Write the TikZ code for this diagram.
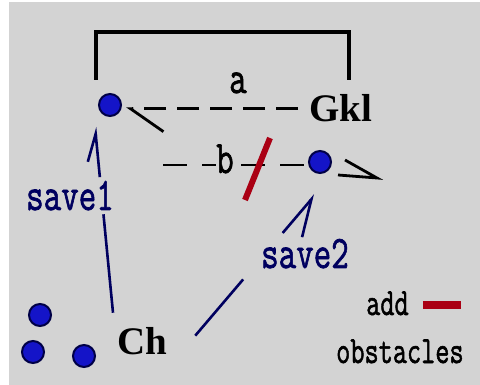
\documentclass[tikz,border=0pt]{standalone}
\usepackage{fontspec}
\usepackage{graphicx}
\usetikzlibrary{arrows.meta,calc}
\newfontfamily\typer[FakeBold=1.6]{Latin Modern Mono}
\newfontfamily\labelserif{Liberation Serif}
\definecolor{paper}{RGB}{211,211,211}
\definecolor{dotfill}{RGB}{20,20,200}
\definecolor{dotrim}{RGB}{0,0,70}
\definecolor{navyink}{RGB}{0,0,95}
\definecolor{blocker}{RGB}{170,0,20}
% stretch a label vertically
\newcommand{\tallmono}[2]{\scalebox{1}[#1]{#2}}

\begin{document}
\begin{tikzpicture}[x=1pt,y=-1pt,
  site/.style={circle, fill=dotfill, draw=dotrim, line width=2pt,
    minimum size=22pt, inner sep=0pt},
  hostname/.style={font=\labelserif\bfseries\fontsize{39}{39}\selectfont,
    inner sep=0pt, anchor=base west},
  marker/.style={font=\typer\fontsize{34}{34}\selectfont,
    inner sep=0pt, anchor=base west},
  note/.style={font=\typer\fontsize{27.5}{27.5}\selectfont,
    inner sep=0pt, anchor=base west},
  savelink/.style={draw=navyink, line width=2.6pt},
  hop/.style={line width=2.8pt, dash pattern=on 22pt off 11pt},
]
% canvas
\fill[white] (0,0) rectangle (480,385);
\fill[paper] (9,2) rectangle (480,385);
\useasboundingbox (0,0) rectangle (480,385);

% bracket over the top pair
\draw[line width=4pt] (96,80) -- (96,32) -- (349,32) -- (349,80);

% sites
\node[site] (d1) at (110,105) {};
\node[site] (d2) at (320,162) {};
\node[site] (d3) at (40,315) {};
\node[site] (d4) at (33,352) {};
\node[site] (d5) at (84,356) {};

% hosts
\node[hostname] (gkl) at (309,122) {Gkl};
\node[hostname] (ch) at (117,354) {Ch};

% hop a
\draw[hop, -{Straight Barb[harpoon, length=33pt, width=46pt, line width=2.8pt]}]
  ([xshift=-11pt]gkl.west) -- ([xshift=4pt]d1.east |- gkl.west);
\node[marker] (lbla) at (229,93) {\tallmono{1.37}{a}};

% hop b
\coordinate (bstart) at (163,165);
\draw[hop, dash pattern=on 24pt off 15pt] (bstart) -- (d2.west |- bstart);
\node[marker, fill=paper] (lblb) at (216,173) {\tallmono{1.37}{b}};
\coordinate (btip) at ($(d2)+(57,16)$);
\draw[line width=2.8pt] ($(btip)+(-32,-18)$) -- (btip) -- ($(btip)+(-39,-3)$);

% obstacle across hop b
\draw[blocker, line width=6pt] (270,138) -- (245,200);

% save1: Ch -> upper left site
\coordinate (s1from) at ($(ch.north west)+(-4,-14)$);
\coordinate (s1to) at ($(d1)+(-15,22)$);
\draw[savelink] (s1from) -- ($(s1from)!0.53!(s1to)$);
\draw[savelink, -{Straight Barb[harpoon, length=27pt, width=21pt, line width=2.6pt]}]
  ($(s1from)!0.73!(s1to)$) -- (s1to);
\node[marker, text=navyink] (lbl1) at (26,210) {\tallmono{1.37}{save1}};

% save2: Ch -> right site
\coordinate (s2from) at ($(ch.east)+(28,-5)$);
\coordinate (s2to) at ($(d2)+(-5,33)$);
\draw[savelink] (s2from) -- ($(s2from)!0.40!(s2to)$);
\draw[savelink, -{Straight Barb[harpoon, swap, length=35pt, width=35pt, line width=2.6pt]}]
  ($(s2from)!0.73!(s2to)$) -- (s2to);
\node[marker, text=navyink] (lbl2) at (261,268) {\tallmono{1.37}{save2}};

% legend
\node[note] (lbladd) at (366,315) {\tallmono{1.4}{add}};
\node[note] (lblobs) at (336,363) {\tallmono{1.4}{obstacles}};
\draw[blocker, line width=8pt] ([xshift=14pt,yshift=-2pt]lbladd.east) -- ++(38,0);
\end{tikzpicture}
\end{document}
